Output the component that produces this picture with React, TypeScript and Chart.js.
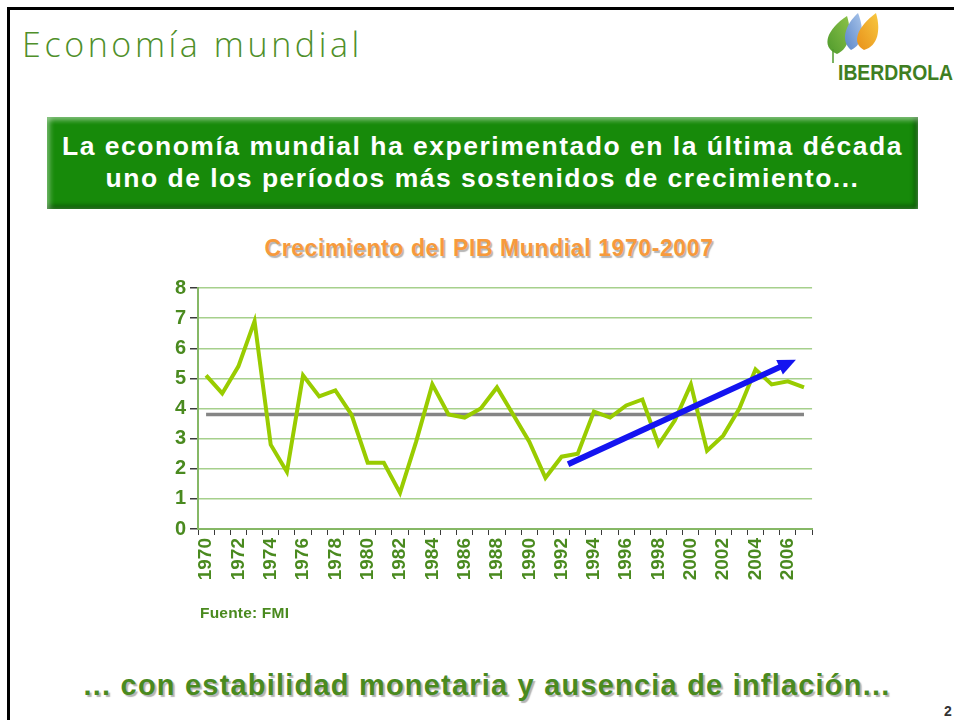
import React, { useEffect, useRef } from "react";
import { Chart, registerables } from "chart.js";

Chart.register(...registerables);

// ---- Data ----
const years = [
  "1970", "1971", "1972", "1973", "1974", "1975", "1976", "1977", "1978", "1979",
  "1980", "1981", "1982", "1983", "1984", "1985", "1986", "1987", "1988", "1989",
  "1990", "1991", "1992", "1993", "1994", "1995", "1996", "1997", "1998", "1999",
  "2000", "2001", "2002", "2003", "2004", "2005", "2006", "2007",
];
const gdpGrowth = [
  5.1, 4.5, 5.4, 6.9, 2.8, 1.9, 5.1, 4.4, 4.6, 3.8,
  2.2, 2.2, 1.2, 2.9, 4.8, 3.8, 3.7, 4.0, 4.7, 3.8,
  2.9, 1.7, 2.4, 2.5, 3.9, 3.7, 4.1, 4.3, 2.8, 3.6,
  4.8, 2.6, 3.1, 4.0, 5.3, 4.8, 4.9, 4.7,
];
const averageGrowth = 3.8;
const averageSeries = years.map(() => averageGrowth);
const yTicks = [0, 1, 2, 3, 4, 5, 6, 7, 8];
// trend arrow in data units (x = category index, y = growth %)
const trendArrowStart = { x: 22.4, y: 2.15 };
const trendArrowEnd = { x: 36.5, y: 5.62 };

const GREEN_TEXT = "#4a8a1f";
const FONT = "'Liberation Sans', Arial, sans-serif";

const arrowPlugin = {
  id: "trendArrow",
  afterDatasetsDraw(chart: any) {
    const { ctx, scales } = chart;
    const xs = scales.x;
    const ys = scales.y;
    const x0 = xs.getPixelForValue(trendArrowStart.x);
    const y0 = ys.getPixelForValue(trendArrowStart.y);
    const x1 = xs.getPixelForValue(trendArrowEnd.x);
    const y1 = ys.getPixelForValue(trendArrowEnd.y);
    const ang = Math.atan2(y1 - y0, x1 - x0);
    const headLen = 18;
    const headHalf = 8;
    const bx = x1 - headLen * Math.cos(ang);
    const by = y1 - headLen * Math.sin(ang);
    ctx.save();
    ctx.strokeStyle = "#1414f0";
    ctx.fillStyle = "#1414f0";
    ctx.lineWidth = 6;
    ctx.lineCap = "butt";
    ctx.beginPath();
    ctx.moveTo(x0, y0);
    ctx.lineTo(bx + 2 * Math.cos(ang), by + 2 * Math.sin(ang));
    ctx.stroke();
    ctx.beginPath();
    ctx.moveTo(x1, y1);
    ctx.lineTo(bx + headHalf * Math.sin(ang), by - headHalf * Math.cos(ang));
    ctx.lineTo(bx - headHalf * Math.sin(ang), by + headHalf * Math.cos(ang));
    ctx.closePath();
    ctx.fill();
    ctx.restore();
  },
};

function GrowthChart() {
  const ref = useRef<HTMLCanvasElement | null>(null);
  useEffect(() => {
    if (!ref.current) return;
    const chart = new Chart(ref.current, {
      type: "line",
      data: {
        labels: years,
        datasets: [
          {
            label: "Crecimiento PIB",
            data: gdpGrowth,
            borderColor: "#99cc00",
            borderWidth: 4,
            pointRadius: 0,
            tension: 0,
            order: 0,
          },
          {
            label: "Media",
            data: averageSeries,
            borderColor: "#858585",
            borderWidth: 3.5,
            pointRadius: 0,
            tension: 0,
            order: 1,
          },
        ],
      },
      options: {
        responsive: false,
        animation: false,
        layout: { padding: { top: 10, right: 16, left: 0, bottom: 0 } },
        plugins: {
          legend: { display: false },
          tooltip: { enabled: false },
          title: { display: false },
        },
        scales: {
          x: {
            type: "category",
            offset: true,
            afterFit: (s: any) => {
              s.height = 78;
            },
            grid: {
              display: true,
              drawOnChartArea: false,
              drawTicks: true,
              tickLength: 6,
              tickColor: "#3a3a3a",
              offset: true,
            },
            border: { display: true, color: "#86b866", width: 2 },
            ticks: {
              autoSkip: false,
              maxRotation: 90,
              minRotation: 90,
              padding: 3,
              color: GREEN_TEXT,
              font: { family: FONT, size: 19, weight: "bold" },
              callback: (_v: any, i: number) => (i % 2 === 0 ? years[i] : ""),
            },
          },
          y: {
            min: yTicks[0],
            max: yTicks[yTicks.length - 1],
            afterFit: (s: any) => {
              s.width = 58;
            },
            afterBuildTicks: (s: any) => {
              s.ticks = yTicks.map((v) => ({ value: v }));
            },
            grid: {
              display: true,
              color: "#a6d08c",
              lineWidth: 1.5,
              drawTicks: true,
              tickLength: 8,
              tickColor: "#3a3a3a",
            },
            border: { display: true, color: "#86b866", width: 2 },
            ticks: {
              padding: 4,
              color: GREEN_TEXT,
              font: { family: FONT, size: 20, weight: "bold" },
            },
          },
        },
      },
      plugins: [arrowPlugin],
    } as any);
    return () => chart.destroy();
  }, []);
  return (
    <canvas
      ref={ref}
      width={690}
      height={335}
      style={{ position: "absolute", left: 140, top: 272, width: 690, height: 335 }}
    />
  );
}

function Logo() {
  return (
    <div style={{ position: "absolute", left: 815, top: 5, width: 139, height: 90 }}>
      <svg width={139} height={90} style={{ position: "absolute", left: 0, top: 0 }}>
        <defs>
          <linearGradient id="lg" x1="0" y1="1" x2="1" y2="0">
            <stop offset="0" stopColor="#4f9a2c" />
            <stop offset="1" stopColor="#8cc24a" />
          </linearGradient>
          <linearGradient id="lb" x1="0" y1="1" x2="1" y2="0">
            <stop offset="0" stopColor="#5b86c8" />
            <stop offset="1" stopColor="#a8c4ea" />
          </linearGradient>
          <linearGradient id="lo" x1="0" y1="1" x2="1" y2="0">
            <stop offset="0" stopColor="#e8901a" />
            <stop offset="1" stopColor="#f8c840" />
          </linearGradient>
        </defs>
        <path d="M22 49 C5 42, 12 24, 32 11 C37 27, 35 43, 22 49 Z" fill="url(#lg)" />
        <path d="M36 45 C25 36, 30 20, 43 8 C49 23, 49 39, 36 45 Z" fill="url(#lb)" />
        <path d="M49 45 C36 38, 42 22, 61 8 C66 25, 63 41, 49 45 Z" fill="url(#lo)" />
        <line x1={18} y1={44} x2={18} y2={58} stroke="#4f9a2c" strokeWidth={1.5} />
      </svg>
      <div
        style={{
          position: "absolute",
          left: 23,
          top: 57,
          fontFamily: FONT,
          fontWeight: "bold",
          fontSize: 22,
          lineHeight: "22px",
          color: "#3f7e22",
          transform: "scaleX(0.88)",
          transformOrigin: "left top",
          whiteSpace: "nowrap",
        }}
      >
        IBERDROLA
      </div>
    </div>
  );
}

export default function App() {
  return (
    <div
      style={{
        position: "fixed",
        left: 0,
        top: 0,
        width: 954,
        height: 720,
        overflow: "hidden",
        background: "#ffffff",
      }}
    >
      <div
        style={{
          position: "absolute",
          left: 7,
          top: 7,
          width: 1100,
          height: 1100,
          border: "3px solid #000",
        }}
      />
      <div
        style={{
          position: "absolute",
          left: 22,
          top: 27,
          fontFamily: "'Open Sans', 'DejaVu Sans', sans-serif",
          fontWeight: 300,
          fontSize: 34,
          lineHeight: "34px",
          letterSpacing: 3.6,
          color: "#4f8f2a",
          whiteSpace: "nowrap",
        }}
      >
        Economía mundial
      </div>
      <Logo />
      <div
        style={{
          position: "absolute",
          left: 47,
          top: 117,
          width: 871,
          height: 92,
          boxSizing: "border-box",
          paddingTop: 14,
          background: "#178a0a",
          boxShadow:
            "inset 0 4px 4px rgba(255,255,255,0.35), inset 4px 0 4px rgba(255,255,255,0.25), inset -4px -4px 4px rgba(0,40,0,0.45)",
          color: "#ffffff",
          fontFamily: FONT,
          fontWeight: "bold",
          fontSize: 26.5,
          lineHeight: "31.5px",
          letterSpacing: 1.5,
          textAlign: "center",
          whiteSpace: "nowrap",
        }}
      >
        La economía mundial ha experimentado en la última década
        <br />
        uno de los períodos más sostenidos de crecimiento...
      </div>
      <div
        style={{
          position: "absolute",
          left: 189,
          width: 600,
          top: 237,
          textAlign: "center",
          fontFamily: FONT,
          fontWeight: "bold",
          fontSize: 23,
          lineHeight: "23px",
          letterSpacing: 0.6,
          color: "#f79a3c",
          textShadow: "1.5px 1.5px 1px rgba(120,120,120,0.55)",
          whiteSpace: "nowrap",
        }}
      >
        Crecimiento del PIB Mundial 1970-2007
      </div>
      <GrowthChart />
      <div
        style={{
          position: "absolute",
          left: 200,
          top: 605,
          fontFamily: FONT,
          fontWeight: "bold",
          fontSize: 15.5,
          lineHeight: "16px",
          letterSpacing: 0.2,
          color: GREEN_TEXT,
          whiteSpace: "nowrap",
        }}
      >
        Fuente: FMI
      </div>
      <div
        style={{
          position: "absolute",
          left: 0,
          width: 974,
          top: 670,
          textAlign: "center",
          fontFamily: FONT,
          fontWeight: "bold",
          fontSize: 29,
          lineHeight: "30px",
          letterSpacing: 1.2,
          color: "#4a8a1f",
          textShadow: "2px 2px 1px rgba(130,130,130,0.6)",
          whiteSpace: "nowrap",
        }}
      >
        ... con estabilidad monetaria y ausencia de inflación...
      </div>
      <div
        style={{
          position: "absolute",
          left: 944,
          top: 704,
          fontFamily: FONT,
          fontWeight: "bold",
          fontSize: 14,
          lineHeight: "14px",
          color: "#333",
        }}
      >
        2
      </div>
    </div>
  );
}
